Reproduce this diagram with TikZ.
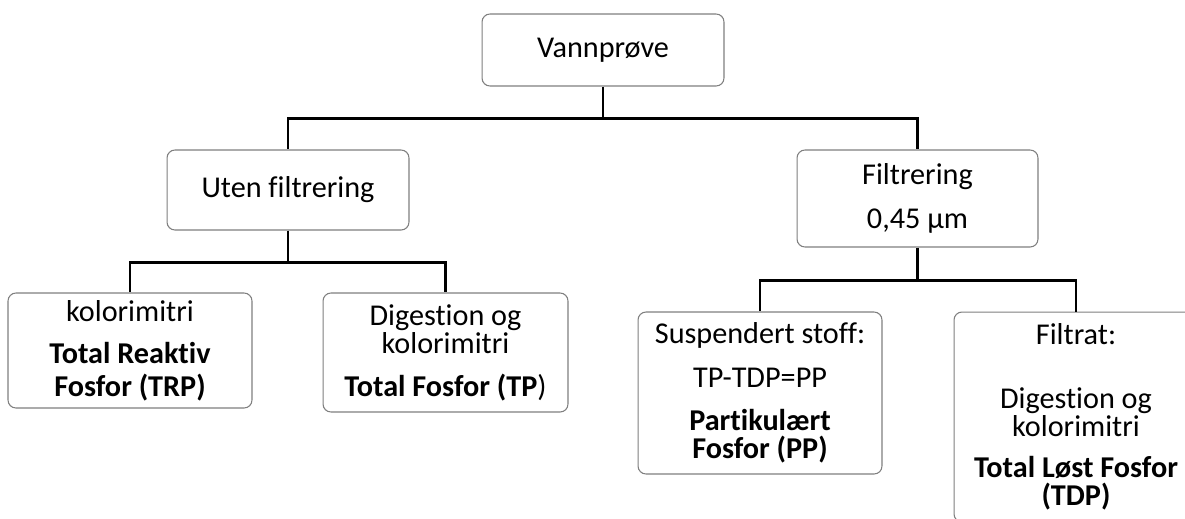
\documentclass[tikz,border=0pt]{standalone}
\usepackage{fontspec}
\setmainfont{Carlito}[Ligatures=NoCommon]
\usetikzlibrary{positioning}
\definecolor{boxgray}{HTML}{7F7F7F}

\begin{document}
\begin{tikzpicture}[x=0.02cm, y=-0.02cm,
  box/.style={rectangle, rounded corners=4.5pt, draw=boxgray, line width=0.6pt,
              fill=white, align=center, inner sep=0pt,
              font=\fontsize{17.2}{16}\selectfont},
  link/.style={line width=1.2pt, black},
]
  \useasboundingbox (0,0) rectangle (1185,518);
  \clip (0,0) rectangle (1185,518);
  % top level
  \node[box, minimum width=4.84cm, minimum height=1.44cm] (vann) at (603,50) {Vannprøve};
  \node[box, minimum width=4.84cm, minimum height=1.6cm] (uten) at (288,190) {Uten filtrering};
  \node[box, minimum width=4.82cm, minimum height=1.94cm] (filt) at (917.5,198.5) {Filtrering\\[0.32cm]0,45 µm};
  % results
  \node[box, minimum width=4.88cm, minimum height=2.3cm] (trp) at (130,350.5)
    {kolorimitri\\[0.28cm]\textbf{Total Reaktiv}\\[0.1cm]\textbf{Fosfor (TRP)}};
  \node[box, minimum width=4.9cm, minimum height=2.38cm] (tp) at (445.5,352.5)
    {Digestion og\\kolorimitri\\[0.3cm]\textbf{Total Fosfor (TP})};
  \node[box, minimum width=4.88cm, minimum height=3.24cm] (pp) at (760,393)
    {Suspendert stoff:\\[0.32cm]TP-TDP=PP\\[0.3cm]\textbf{Partikulært}\\\textbf{Fosfor (PP)}};
  \node[box, minimum width=4.88cm, minimum height=4.2cm] (tdp) at (1076,417)
    {Filtrat:\\[0.7cm]Digestion og\\kolorimitri\\[0.26cm]\textbf{Total Løst Fosfor}\\\textbf{(TDP)}};
  % connectors
  \draw[link] (vann.south) -- ++(0,32) coordinate (vannjoint) -| (uten.north);
  \draw[link] (vannjoint) -| (filt.north);
  \draw[link] (uten.south) -- ++(0,32) coordinate (utenjoint) -| (trp.north);
  \draw[link] (utenjoint) -| (tp.north);
  \draw[link] (filt.south) -- ++(0,33) coordinate (filtjoint) -| (pp.north);
  \draw[link] (filtjoint) -| (tdp.north);
\end{tikzpicture}
\end{document}
